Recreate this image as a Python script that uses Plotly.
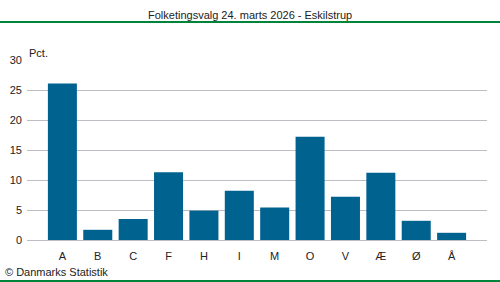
import plotly.graph_objects as go

categories = ["A", "B", "C", "F", "H", "I", "M", "O", "V", "Æ", "Ø", "Å"]
values = [26.1, 1.7, 3.5, 11.3, 4.9, 8.2, 5.4, 17.2, 7.2, 11.2, 3.2, 1.2]
y_ticks = [0, 5, 10, 15, 20, 25, 30]
title_text = "Folketingsvalg 24. marts 2026 - Eskilstrup"
unit_text = "Pct."
source_text = "© Danmarks Statistik"

bar_color = "#00628f"
green = "#00843c"
font = "Liberation Sans, Arial, sans-serif"
txt = "#222222"

fig = go.Figure(go.Bar(
    x=list(range(len(categories))), y=values,
    marker=dict(color=bar_color, line=dict(width=0)),
    width=0.82,
))

L, R, T, B = 27, 13, 60, 42

fig.update_layout(
    width=500, height=282,
    margin=dict(l=L, r=R, t=T, b=B),
    paper_bgcolor="white", plot_bgcolor="white",
    font=dict(family=font, size=11, color=txt),
    showlegend=False,
    xaxis=dict(
        range=[-1, len(categories)], automargin=False,
        tickmode="array", tickvals=list(range(len(categories))), ticktext=categories,
        showgrid=False, zeroline=False, showline=False, ticks="",
        ticklabelstandoff=8,
        tickfont=dict(size=11, color=txt),
    ),
    yaxis=dict(
        range=[0, 30], tickmode="array", tickvals=y_ticks, automargin=False,
        showgrid=True, gridcolor="#bdbdc4", gridwidth=1,
        zeroline=True, zerolinecolor="#bdbdc4", zerolinewidth=1,
        showline=False, ticks="", ticklabelstandoff=4,
        tickfont=dict(size=11, color=txt),
    ),
)

plot_h = 282 - T - B
plot_w = 500 - L - R
def py(pix):
    return (282 - B - pix) / plot_h

def px(pix):
    return (pix - L) / plot_w

fig.add_annotation(text=title_text, x=px(250), y=py(15), xref="paper", yref="paper",
                   showarrow=False, font=dict(size=11, color=txt),
                   xanchor="center", yanchor="middle")
fig.add_annotation(text=unit_text, x=px(27), y=py(45), xref="paper", yref="paper",
                   xanchor="left", yanchor="top", showarrow=False,
                   font=dict(size=11, color=txt))
fig.add_annotation(text=source_text, x=px(3), y=py(272), xref="paper", yref="paper",
                   showarrow=False, font=dict(size=11, color=txt),
                   xanchor="left", yanchor="middle")

fig.add_shape(type="line", xref="paper", yref="paper",
              x0=px(0), x1=px(500), y0=py(22), y1=py(22),
              line=dict(color=green, width=2))
fig.add_shape(type="line", xref="paper", yref="paper",
              x0=px(0), x1=px(500), y0=py(281), y1=py(281),
              line=dict(color=green, width=2))

fig.write_html("out.html")
